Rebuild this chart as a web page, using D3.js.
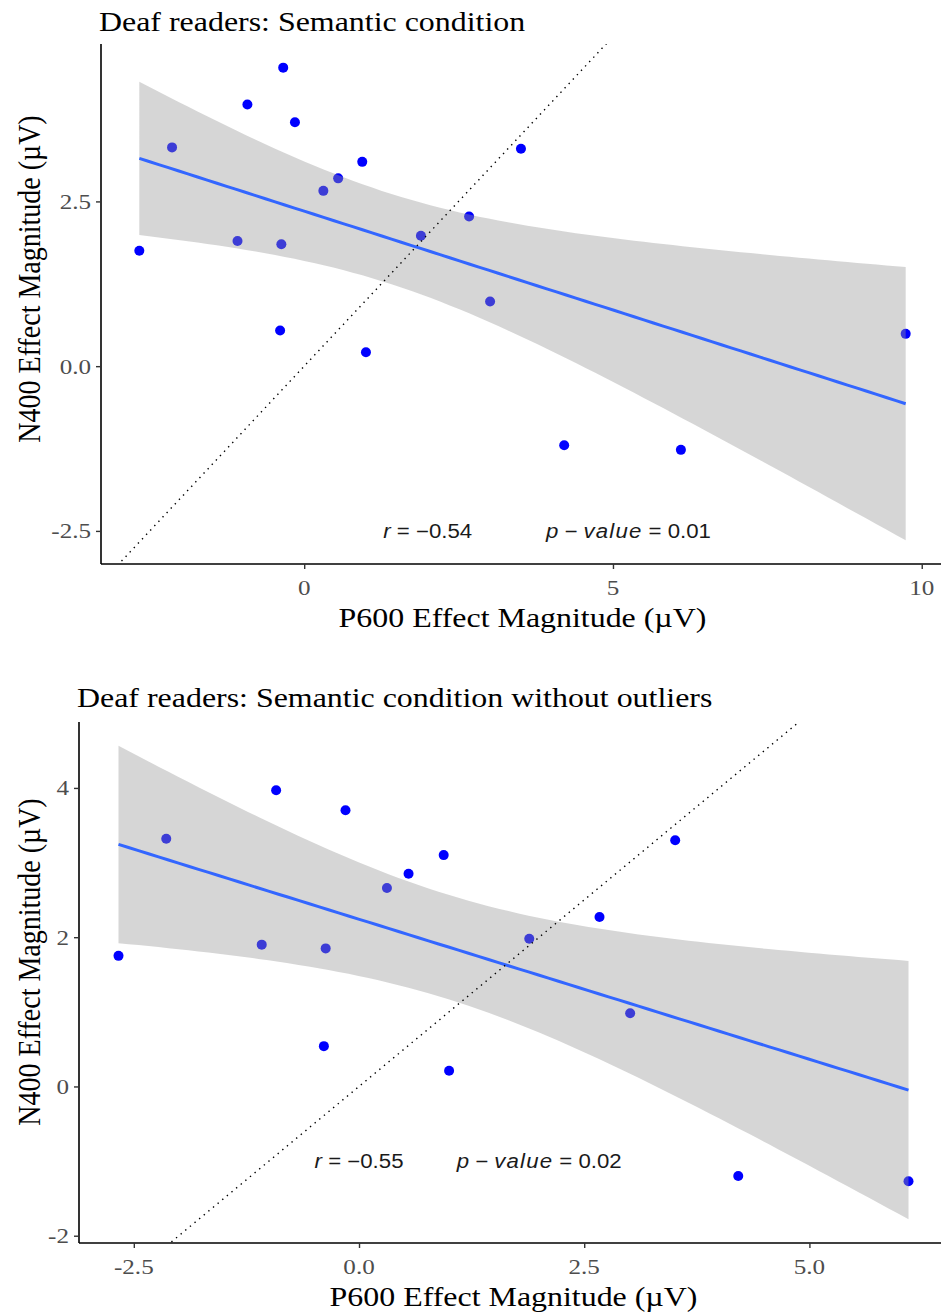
<!DOCTYPE html>
<html>
<head>
  <meta charset="utf-8">
  <script src="https://cdn.jsdelivr.net/npm/d3@7"></script>
  <style>
    body { margin: 0; background: #fff; }
    svg { display: block; }
  </style>
</head>
<body>
<div id="chart"></div>
<script>
  // values (µV), one entry per reader
  var p600 = [-2.67, -2.14, -0.92, -1.08, -0.34, -0.37, -0.39, -0.15, 0.31, 0.55,
              0.94, 1.00, 1.89, 2.67, 3.01, 3.51, 4.21, 6.10, 9.74];
  var n400 = [1.75, 3.32, 3.97, 1.90, 4.53, 1.85, 0.54, 3.70, 2.66, 2.85,
              3.10, 0.21, 1.98, 2.27, 0.98, 3.30, -1.20, -1.27, 0.49];
  // readers dropped in the second plot
  var outliers = [4, 18];

  var titles = ['Deaf readers: Semantic condition',
                'Deaf readers: Semantic condition without outliers'];
  var xTicks = [[0, 5, 10], [-2.5, 0, 2.5, 5]];
  var xTickLabels = [['0', '5', '10'], ['-2.5', '0.0', '2.5', '5.0']];
  var yTicks = [[-2.5, 0, 2.5], [-2, 0, 2, 4]];
  var yTickLabels = [['-2.5', '0.0', '2.5'], ['-2', '0', '2', '4']];
  var rLabels = ['\u22120.54', '\u22120.55'];
  var pLabels = ['0.01', '0.02'];
  // where the r / p text sits, in data units [x of r, x of p, y]
  var annotAt = [[2, 5.25, -2.5], [0, 2, -1]];

  var tCrit = { 15: 2.131450, 16: 2.119905, 17: 2.109816 };

  var W = 941, H = 1314;
  var stretch = 1.14;   // the picture is a little wider than tall
  var serif = '"Liberation Serif", "Times New Roman", serif';
  var sans = '"Liberation Sans", Arial, sans-serif';

  var svg = d3.select('#chart').append('svg')
      .attr('width', W)
      .attr('height', H);

  var panels = [
    { left: 101, right: 944, top: 44, bottom: 564, titleY: 31, yTitleY: 279 },
    { left: 79, right: 948, top: 722, bottom: 1243, titleY: 707, yTitleY: 962 }
  ];

  function fitLm(xs, ys) {
    var n = xs.length;
    var mx = d3.mean(xs), my = d3.mean(ys);
    var sxx = d3.sum(xs, function(x) { return (x - mx) * (x - mx); });
    var sxy = d3.sum(xs, function(x, i) { return (x - mx) * (ys[i] - my); });
    var b = sxy / sxx;
    var a = my - b * mx;
    var rss = d3.sum(xs, function(x, i) { var e = ys[i] - (a + b * x); return e * e; });
    var s = Math.sqrt(rss / (n - 2));
    var t = tCrit[n - 2];
    var lo = d3.min(xs), hi = d3.max(xs);
    var grid = d3.range(80).map(function(i) { return lo + (hi - lo) * i / 79; });
    return grid.map(function(x) {
      var f = a + b * x;
      var se = s * Math.sqrt(1 / n + (x - mx) * (x - mx) / sxx);
      return { x: x, y: f, ymin: f - t * se, ymax: f + t * se };
    });
  }

  function expand(ext) {
    var d = (ext[1] - ext[0]) * 0.05;
    return [ext[0] - d, ext[1] + d];
  }

  function stretchedText(parent, x, y, rot) {
    var g = parent.append('g')
        .attr('transform', 'translate(' + x + ',' + y + ') scale(' + stretch + ',1)' +
              (rot ? ' rotate(' + rot + ')' : ''));
    return g.append('text');
  }

  function drawPanel(k) {
    var P = panels[k];
    var idx = d3.range(p600.length).filter(function(i) { return k === 0 || outliers.indexOf(i) < 0; });
    var xs = idx.map(function(i) { return p600[i]; });
    var ys = idx.map(function(i) { return n400[i]; });
    var band = fitLm(xs, ys);

    var x = d3.scaleLinear()
        .domain(expand(d3.extent(xs)))
        .range([P.left, P.right]);
    var yExt = [
      Math.min(d3.min(ys), d3.min(band, function(d) { return d.ymin; })),
      Math.max(d3.max(ys), d3.max(band, function(d) { return d.ymax; }))
    ];
    var y = d3.scaleLinear()
        .domain(expand(yExt))
        .range([P.bottom, P.top]);

    var g = svg.append('g');

    g.append('clipPath').attr('id', 'clip' + k)
      .append('rect')
        .attr('x', P.left).attr('y', P.top)
        .attr('width', P.right - P.left).attr('height', P.bottom - P.top);

    var plot = g.append('g').attr('clip-path', 'url(#clip' + k + ')');

    // points first, the ribbon is laid over them
    plot.selectAll('circle').data(idx)
      .enter().append('circle')
        .attr('cx', function(i) { return x(p600[i]); })
        .attr('cy', function(i) { return y(n400[i]); })
        .attr('r', 5)
        .attr('fill', '#0000ff');

    plot.append('path')
        .datum(band)
        .attr('d', d3.area()
            .x(function(d) { return x(d.x); })
            .y0(function(d) { return y(d.ymin); })
            .y1(function(d) { return y(d.ymax); }))
        .attr('fill', '#999999')
        .attr('fill-opacity', 0.4);

    plot.append('path')
        .datum(band)
        .attr('d', d3.line()
            .x(function(d) { return x(d.x); })
            .y(function(d) { return y(d.y); }))
        .attr('fill', 'none')
        .attr('stroke', '#3366ff')
        .attr('stroke-width', 3);

    // identity line
    var dom = x.domain();
    plot.append('line')
        .attr('x1', x(dom[0])).attr('y1', y(dom[0]))
        .attr('x2', x(dom[1])).attr('y2', y(dom[1]))
        .attr('stroke', '#000')
        .attr('stroke-width', 1.4)
        .attr('stroke-dasharray', '1.4,4.6');

    // r and p-value
    var at = annotAt[k];
    var t1 = stretchedText(g, x(at[0]), y(at[2]))
        .attr('text-anchor', 'middle')
        .attr('dy', '0.36em')
        .attr('font-family', sans)
        .attr('font-size', 19.5)
        .attr('fill', '#1a1a1a');
    t1.append('tspan').attr('font-style', 'italic').text('r');
    t1.append('tspan').text(' = ' + rLabels[k]);

    var t2 = stretchedText(g, x(at[1]), y(at[2]))
        .attr('text-anchor', 'middle')
        .attr('dy', '0.36em')
        .attr('font-family', sans)
        .attr('font-size', 19.5)
        .attr('fill', '#1a1a1a');
    t2.append('tspan').attr('font-style', 'italic').text('p \u2212 ');
    t2.append('tspan').attr('font-style', 'italic').attr('letter-spacing', 1).text('value');
    t2.append('tspan').text(' = ' + pLabels[k]);

    // axes
    var xAxis = g.append('g')
        .attr('transform', 'translate(0,' + P.bottom + ')')
        .call(d3.axisBottom(x).tickValues(xTicks[k]).tickFormat(function(d, i) { return xTickLabels[k][i]; })
            .tickSize(5).tickPadding(4));
    var yAxis = g.append('g')
        .attr('transform', 'translate(' + P.left + ',0)')
        .call(d3.axisLeft(y).tickValues(yTicks[k]).tickFormat(function(d, i) { return yTickLabels[k][i]; })
            .tickSize(5).tickPadding(5));

    [xAxis, yAxis].forEach(function(ax) {
      ax.select('.domain')
          .attr('stroke', '#000')
          .attr('stroke-width', 1.6)
          .attr('d', ax === xAxis ? 'M' + P.left + ',0H' + P.right : 'M0,' + P.top + 'V' + P.bottom);
      ax.selectAll('.tick line').attr('stroke', '#333').attr('stroke-width', 1.4);
      ax.selectAll('.tick text').remove();
    });

    // tick labels, stretched like the rest of the picture
    xTicks[k].forEach(function(v, i) {
      stretchedText(g, x(v), P.bottom + 31)
          .attr('text-anchor', 'middle')
          .attr('font-family', serif)
          .attr('font-size', 22)
          .attr('fill', '#4d4d4d')
          .text(xTickLabels[k][i]);
    });
    yTicks[k].forEach(function(v, i) {
      stretchedText(g, P.left - 10, y(v))
          .attr('text-anchor', 'end')
          .attr('dy', '0.34em')
          .attr('font-family', serif)
          .attr('font-size', 22)
          .attr('fill', '#4d4d4d')
          .text(yTickLabels[k][i]);
    });

    // titles
    stretchedText(g, P.left - 2, P.titleY)
        .attr('font-family', serif)
        .attr('font-size', 28)
        .attr('fill', '#000')
        .text(titles[k]);

    stretchedText(g, (P.left + P.right) / 2, P.bottom + 63)
        .attr('text-anchor', 'middle')
        .attr('font-family', serif)
        .attr('font-size', 28)
        .attr('fill', '#000')
        .text('P600 Effect Magnitude (\u00b5V)');

    stretchedText(g, 40, P.yTitleY, -90)
        .attr('text-anchor', 'middle')
        .attr('font-family', serif)
        .attr('font-size', 28)
        .attr('fill', '#000')
        .text('N400 Effect Magnitude (\u00b5V)');
  }

  drawPanel(0);
  drawPanel(1);
</script>
</body>
</html>
